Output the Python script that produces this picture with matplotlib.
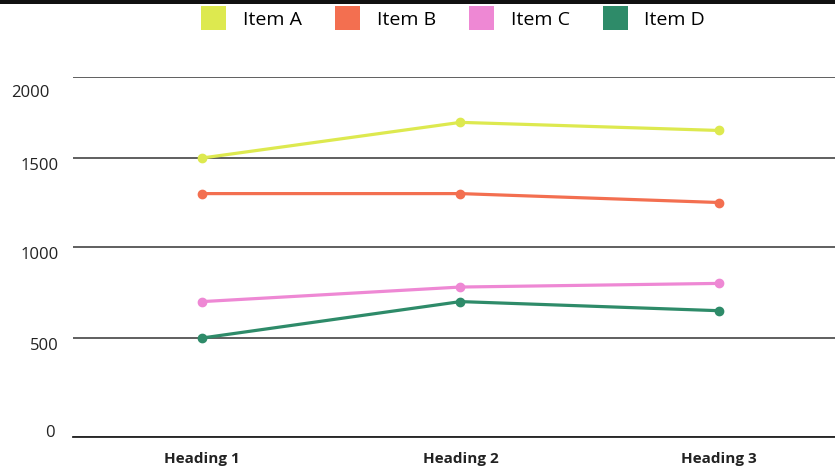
import numpy as np
import matplotlib
matplotlib.use("Agg")
import matplotlib.pyplot as plt
import matplotlib.transforms as mtrans
from matplotlib.patches import Patch, Rectangle

# data
headings = ["Heading 1", "Heading 2", "Heading 3"]
item_a = [1500, 1720, 1670]
item_b = [1300, 1300, 1250]
item_c = [700, 780, 800]
item_d = [500, 700, 650]
series_names = ["Item A", "Item B", "Item C", "Item D"]
series_colors = ["#dde94f", "#f36f50", "#ee88d4", "#2e8b69"]
y_ticks = [0, 500, 1000, 1500, 2000]

plt.rcParams['font.family'] = ['Open Sans', 'DejaVu Sans']

# the original gridlines are not evenly spaced, follow them with a piecewise scale
grid_vals = [0, 500, 1000, 1500, 2000]
grid_pos = [0, 99, 190, 279, 360]


def fwd(v):
    return np.interp(v, grid_vals, grid_pos)


def inv(p):
    return np.interp(p, grid_pos, grid_vals)


fig = plt.figure(figsize=(8.35, 4.70), dpi=100)
ax = fig.add_axes([73 / 835, 33 / 470, 1 - 73 / 835, 360 / 470])

x = np.arange(len(headings))
for vals, name, col in zip([item_a, item_b, item_c, item_d], series_names, series_colors):
    ax.plot(x, vals, color=col, lw=2.3, marker="o", ms=6, label=name, zorder=3)

ax.set_yscale("function", functions=(fwd, inv))
ax.set_ylim(0, 2000)
ax.set_xlim(-0.5, 2.45)

ax.set_yticks(y_ticks)
ax.set_yticklabels([str(v) for v in y_ticks], fontsize=12, color="#222222")
ax.set_xticks(x)
ax.set_xticklabels(headings, fontsize=11, fontweight="bold", color="#222222")
ax.tick_params(axis="both", length=0)
ax.tick_params(axis="y", pad=10)
ax.tick_params(axis="x", pad=11)

ax.yaxis.grid(True, color="#444444", lw=1.2)
ax.set_axisbelow(True)
for s in ["top", "right", "left"]:
    ax.spines[s].set_visible(False)
ax.spines["bottom"].set_color("#222222")
ax.spines["bottom"].set_linewidth(1.3)

# small nudges of the y labels like in the original
nudges = {0: (-3, 4), 500: (0, -4), 1000: (0, -4), 1500: (0, -4), 2000: (-7, -10)}
for lab, v in zip(ax.get_yticklabels(), y_ticks):
    dx, dy = nudges[v]
    lab.set_transform(lab.get_transform() + mtrans.ScaledTranslation(dx / 72, dy / 72, fig.dpi_scale_trans))

handles = [Patch(facecolor=c, edgecolor="none") for c in series_colors]
fig.legend(handles, series_names, loc="upper center", bbox_to_anchor=(453 / 835, 1 - 6 / 470),
           ncol=4, frameon=False, fontsize=14, handlelength=1.3, handleheight=1.55,
           handletextpad=0.85, columnspacing=1.7, borderpad=0, borderaxespad=0)

# dark band along the top edge
fig.patches.append(Rectangle((0, 1 - 4 / 470), 1, 4 / 470, transform=fig.transFigure,
                             facecolor="#111111", edgecolor="none"))

fig.savefig("out.png", dpi=100)
